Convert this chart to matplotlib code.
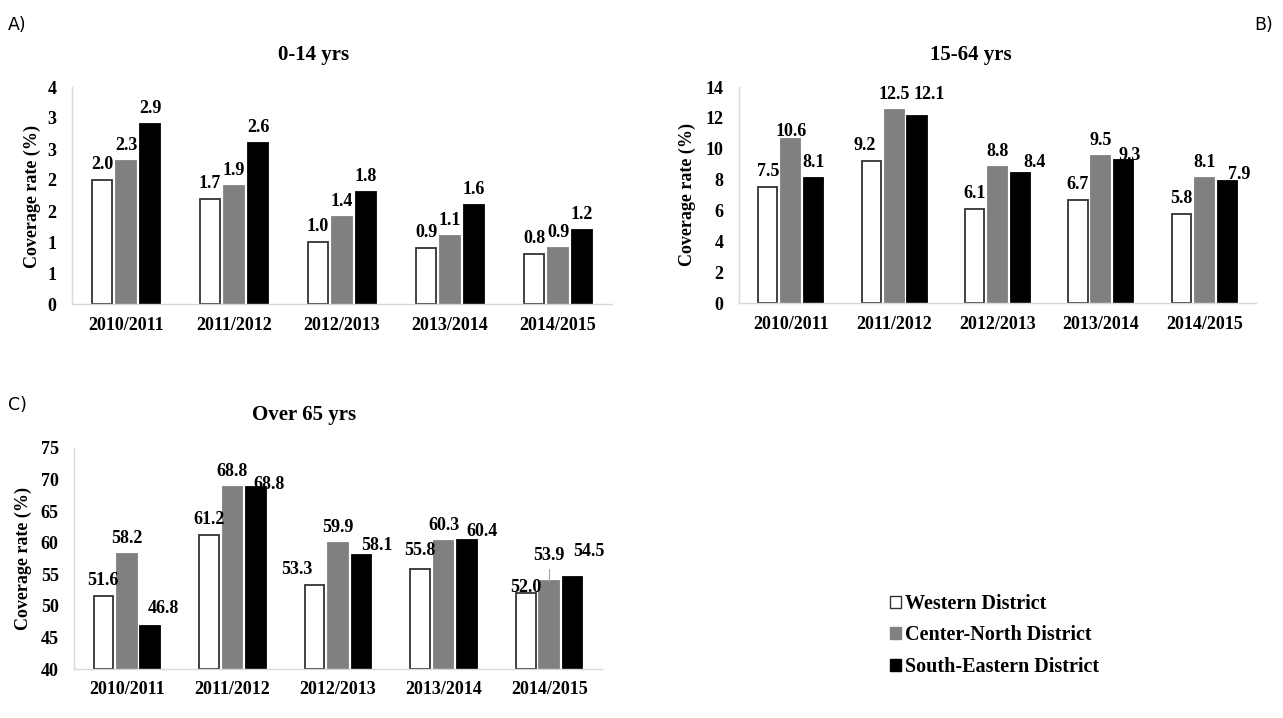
import matplotlib.pyplot as plt
import numpy as np
from matplotlib.patches import Patch

plt.rcParams['font.family'] = ['Liberation Serif', 'DejaVu Serif']
plt.rcParams['font.weight'] = 'bold'

# data
seasons = ['2010/2011', '2011/2012', '2012/2013', '2013/2014', '2014/2015']
districts = ['Western District', 'Center-North District', 'South-Eastern District']

age_0_14 = [[2.0, 1.7, 1.0, 0.9, 0.8],
            [2.3, 1.9, 1.4, 1.1, 0.9],
            [2.9, 2.6, 1.8, 1.6, 1.2]]
age_15_64 = [[7.5, 9.2, 6.1, 6.7, 5.8],
             [10.6, 12.5, 8.8, 9.5, 8.1],
             [8.1, 12.1, 8.4, 9.3, 7.9]]
age_65 = [[51.6, 61.2, 53.3, 55.8, 52.0],
          [58.2, 68.8, 59.9, 60.3, 53.9],
          [46.8, 68.8, 58.1, 60.4, 54.5]]

# y ticks as printed in the original (panel A is rounded to whole numbers)
ticks_a = [0, 0.5, 1.0, 1.5, 2.0, 2.5, 3.0, 3.5]
ticklabels_a = ['0', '1', '1', '2', '2', '3', '3', '4']
ticks_b = [0, 2, 4, 6, 8, 10, 12, 14]
ticks_c = [40, 45, 50, 55, 60, 65, 70, 75]

face = ['white', '#808080', 'black']
edge = ['#333333', '#808080', 'black']

# label nudges in pixels (series, category) -> (dx, dy), where the original moved labels
nudge_b = {(2, 1): (12, 6), (2, 2): (14, -5), (2, 3): (6, -11), (2, 4): (12, -9),
           (1, 0): (0, -8), (0, 1): (-6, 0)}
nudge_c = {(2, 0): (13, 2), (2, 1): (13, -13), (0, 2): (-18, 0), (2, 2): (15, -6),
           (0, 3): (0, 3), (2, 3): (15, -7), (0, 4): (0, -10), (1, 4): (0, 10),
           (2, 4): (16, 10)}

W, H = 1283, 718
fig = plt.figure(figsize=(W / 100, H / 100), dpi=100)


def px_axes(left, right, top, bottom):
    return fig.add_axes([left / W, 1 - bottom / H, (right - left) / W, (bottom - top) / H])


def draw(ax, data, ylim, ticks, ticklabels, nudge=None):
    nudge = nudge or {}
    x = np.arange(len(seasons))
    width = 0.185
    step = 0.222
    base = ylim[0]
    for i in range(3):
        heights = [v - base for v in data[i]]
        bars = ax.bar(x + (i - 1) * step, heights, width, bottom=base,
                      color=face[i], edgecolor=edge[i], linewidth=1.3)
        for j, (b, v) in enumerate(zip(bars, data[i])):
            dx, dy = nudge.get((i, j), (0, 0))
            ax.annotate(f'{v:.1f}', (b.get_x() + b.get_width() / 2, v),
                        xytext=(dx, 11 + dy), textcoords='offset pixels',
                        ha='center', va='baseline', fontsize=13, fontweight='bold')
    ax.set_xlim(-0.5, len(seasons) - 0.5)
    ax.set_ylim(*ylim)
    ax.set_yticks(ticks)
    ax.set_yticklabels(ticklabels)
    ax.set_xticks(x)
    ax.set_xticklabels(seasons)
    ax.tick_params(length=0, labelsize=13)
    ax.tick_params(axis='y', pad=11)
    ax.tick_params(axis='x', pad=9)
    for s in ['top', 'right']:
        ax.spines[s].set_visible(False)
    for s in ['left', 'bottom']:
        ax.spines[s].set_color('#d9d9d9')
        ax.spines[s].set_linewidth(1.0)


ax_a = px_axes(72, 612, 87, 304)
draw(ax_a, age_0_14, (0, 3.5), ticks_a, ticklabels_a)

ax_b = px_axes(739, 1256, 87, 303)
draw(ax_b, age_15_64, (0, 14), ticks_b, [str(t) for t in ticks_b], nudge_b)

ax_c = px_axes(74, 602, 448, 669)
draw(ax_c, age_65, (40, 75), ticks_c, [str(t) for t in ticks_c], nudge_c)

# thin leader line from the moved 53.9 label down to its bar
ax_c.plot([4, 4], [age_65[1][4], age_65[1][4] + 2.0], color='#a6a6a6', lw=0.8)

# titles
fig.text(314 / W, 1 - 55 / H, '0-14 yrs', ha='center', va='center', fontsize=15, fontweight='bold')
fig.text(971 / W, 1 - 55 / H, '15-64 yrs', ha='center', va='center', fontsize=15, fontweight='bold')
fig.text(304 / W, 1 - 415 / H, 'Over 65 yrs', ha='center', va='center', fontsize=15, fontweight='bold')

# y labels
for xp, yp in [(32, 196), (687, 195), (23, 558)]:
    fig.text(xp / W, 1 - yp / H, 'Coverage rate (%)', rotation=90, ha='center', va='center',
             fontsize=13, fontweight='bold')

# panel letters
for txt, xp, yp in [('A)', 8, 25), ('B)', 1254, 25), ('C)', 8, 405)]:
    fig.text(xp / W, 1 - yp / H, txt, ha='left', va='center', fontsize=12.5,
             family='DejaVu Sans', fontweight='normal')

handles = [Patch(facecolor=face[i], edgecolor=edge[i], linewidth=1.0) for i in range(3)]
fig.legend(handles, districts, loc='upper left', bbox_to_anchor=(890 / W, 1 - 594 / H),
           frameon=False, handlelength=0.55, handleheight=0.55,
           handletextpad=0.2, labelspacing=0.57, borderpad=0, borderaxespad=0,
           prop={'weight': 'bold', 'size': 14.5})

fig.savefig('out.png', dpi=100)
